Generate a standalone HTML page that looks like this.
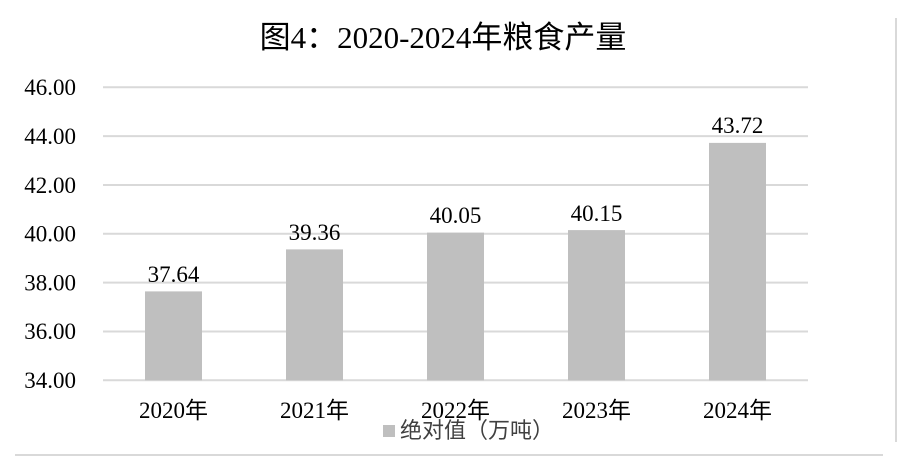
<!DOCTYPE html>
<html>
<head>
<meta charset="utf-8">
<style>
  html, body { margin: 0; padding: 0; background: #ffffff; }
  body { width: 898px; height: 458px; overflow: hidden; }
  svg { display: block; }
  .serif { font-family: "Liberation Serif", "Noto Sans CJK SC", serif; }
</style>
</head>
<body>
<svg width="898" height="458" viewBox="0 0 898 458" xmlns="http://www.w3.org/2000/svg">
  <rect x="0" y="0" width="898" height="458" fill="#ffffff"/>
  <!-- frame shadow -->
  <rect x="15" y="454" width="868" height="2" fill="#d9d9d9"/>
  <rect x="895" y="18" width="2" height="424" fill="#d9d9d9"/>

  <!-- title -->
  <text x="443" y="48" text-anchor="middle" class="serif" font-size="31" fill="#000">图4：2020-2024年粮食产量</text>

  <!-- gridlines -->
  <g stroke="#d9d9d9" stroke-width="2">
    <line x1="103" y1="87.3" x2="808" y2="87.3"/>
    <line x1="103" y1="136.1" x2="808" y2="136.1"/>
    <line x1="103" y1="185" x2="808" y2="185"/>
    <line x1="103" y1="233.8" x2="808" y2="233.8"/>
    <line x1="103" y1="282.6" x2="808" y2="282.6"/>
    <line x1="103" y1="331.5" x2="808" y2="331.5"/>
    <line x1="103" y1="380.3" x2="808" y2="380.3"/>
  </g>

  <!-- y labels -->
  <g class="serif" font-size="23" fill="#000" text-anchor="end">
    <text x="76" y="95">46.00</text>
    <text x="76" y="144">44.00</text>
    <text x="76" y="193">42.00</text>
    <text x="76" y="241.5">40.00</text>
    <text x="76" y="290.5">38.00</text>
    <text x="76" y="339">36.00</text>
    <text x="76" y="388">34.00</text>
  </g>

  <!-- bars -->
  <g fill="#bfbfbf">
    <rect x="145" y="291.4" width="57" height="88.9"/>
    <rect x="286" y="249.4" width="57" height="130.9"/>
    <rect x="427" y="232.6" width="57" height="147.7"/>
    <rect x="568" y="230.1" width="57" height="150.2"/>
    <rect x="709" y="142.9" width="57" height="237.4"/>
  </g>

  <!-- data labels -->
  <g class="serif" font-size="23" fill="#000" text-anchor="middle">
    <text x="173.5" y="282">37.64</text>
    <text x="314.5" y="240">39.36</text>
    <text x="455.5" y="223">40.05</text>
    <text x="596.5" y="221">40.15</text>
    <text x="737.5" y="133">43.72</text>
  </g>

  <!-- x labels -->
  <g class="serif" font-size="23" fill="#000" text-anchor="middle">
    <text x="173.5" y="418">2020年</text>
    <text x="314.5" y="418">2021年</text>
    <text x="455.5" y="418">2022年</text>
    <text x="596.5" y="418">2023年</text>
    <text x="737.5" y="418">2024年</text>
  </g>

  <!-- legend -->
  <rect x="383" y="425" width="12" height="12" fill="#bfbfbf"/>
  <text x="400" y="438" font-family="'Liberation Sans', 'Noto Sans CJK SC', sans-serif" font-size="22" fill="#404040">绝对值（万吨）</text>
</svg>
</body>
</html>
